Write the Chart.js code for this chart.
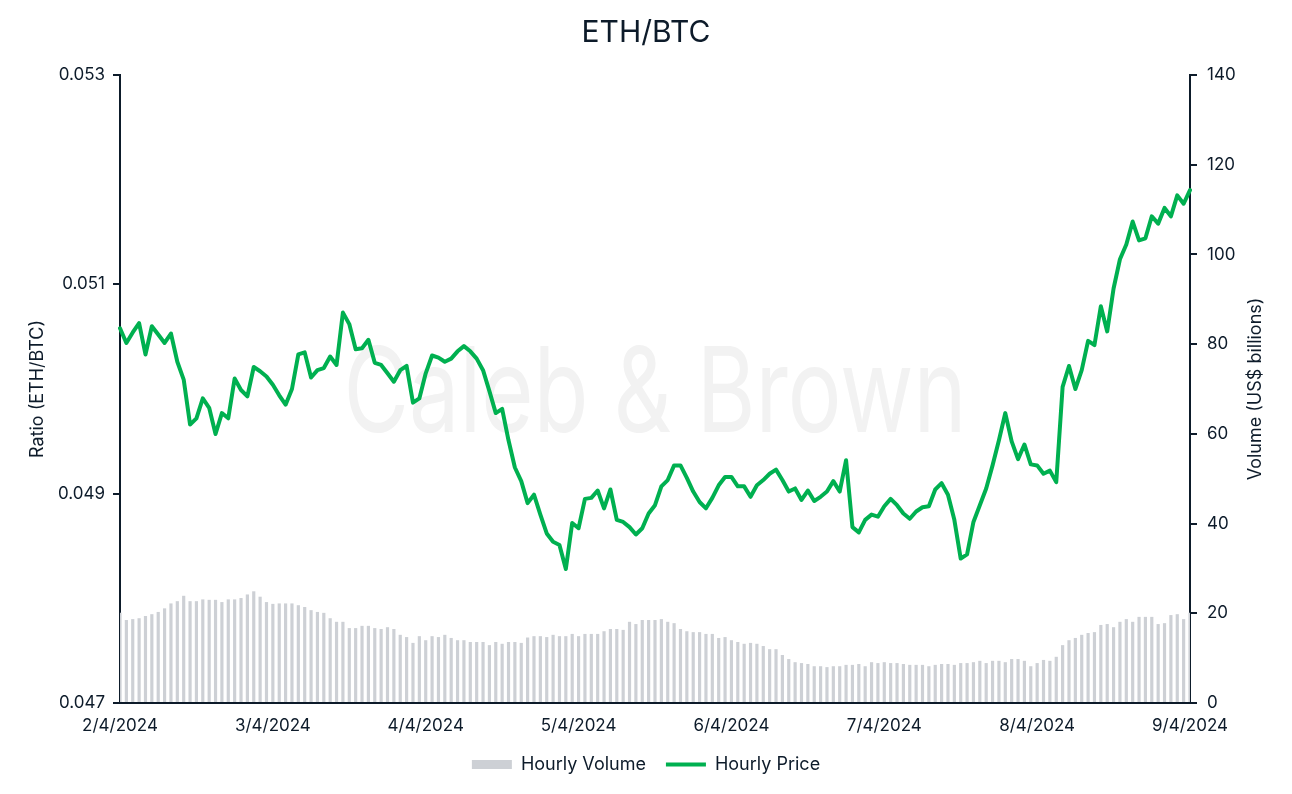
<!DOCTYPE html>
<html>
<head>
<meta charset="utf-8">
<title>ETH/BTC</title>
<script src="https://cdn.jsdelivr.net/npm/chart.js@4.4.1/dist/chart.umd.min.js"></script>
<style>
  body { margin: 0; background: #ffffff; }
  #wrap { width: 1292px; height: 794px; }
</style>
</head>
<body>
<div id="wrap"><canvas id="grafico" width="1292" height="794"></canvas></div>
<script>
// Etiquetas de los dias (eje X), una cada 24 horas
const dayLabels = ["2/4/2024", "3/4/2024", "4/4/2024", "5/4/2024", "6/4/2024", "7/4/2024", "8/4/2024", "9/4/2024"];

// Precio horario ETH/BTC (eje izquierdo)
const hourlyPrice = [
  0.05058, 0.05044, 0.05054, 0.05063, 0.05033, 0.05060, 0.05052, 0.05044, 0.05053, 0.05026,
  0.05009, 0.04966, 0.04972, 0.04991, 0.04982, 0.04957, 0.04977, 0.04972, 0.05010, 0.04999,
  0.04993, 0.05021, 0.05017, 0.05012, 0.05004, 0.04994, 0.04985, 0.05000, 0.05033, 0.05035,
  0.05011, 0.05018, 0.05020, 0.05031, 0.05023, 0.05073, 0.05062, 0.05038, 0.05039, 0.05047,
  0.05025, 0.05023, 0.05015, 0.05007, 0.05018, 0.05022, 0.04987, 0.04991, 0.05015, 0.05032,
  0.05030, 0.05026, 0.05029, 0.05036, 0.05041, 0.05036, 0.05029, 0.05018, 0.04998, 0.04977,
  0.04981, 0.04951, 0.04925, 0.04912, 0.04891, 0.04899, 0.04880, 0.04862, 0.04854, 0.04851,
  0.04828, 0.04872, 0.04867, 0.04895, 0.04896, 0.04903, 0.04886, 0.04904, 0.04875, 0.04873,
  0.04868, 0.04861, 0.04867, 0.04881, 0.04889, 0.04907, 0.04913, 0.04927, 0.04927, 0.04915,
  0.04902, 0.04892, 0.04886, 0.04896, 0.04908, 0.04916, 0.04916, 0.04907, 0.04907, 0.04897,
  0.04908, 0.04913, 0.04919, 0.04923, 0.04913, 0.04902, 0.04905, 0.04894, 0.04903, 0.04893,
  0.04897, 0.04902, 0.04912, 0.04902, 0.04932, 0.04868, 0.04863, 0.04875, 0.04880, 0.04878,
  0.04888, 0.04895, 0.04889, 0.04881, 0.04876, 0.04883, 0.04887, 0.04888, 0.04904, 0.04910,
  0.04899, 0.04875, 0.04838, 0.04842, 0.04873, 0.04889, 0.04905, 0.04927, 0.04951, 0.04977,
  0.04950, 0.04933, 0.04947, 0.04928, 0.04927, 0.04919, 0.04922, 0.04911, 0.05002, 0.05022,
  0.05000, 0.05018, 0.05046, 0.05042, 0.05079, 0.05055, 0.05096, 0.05124, 0.05138, 0.05160,
  0.05142, 0.05144, 0.05165, 0.05158, 0.05173, 0.05165, 0.05185, 0.05177, 0.05190
];

// Volumen horario en miles de millones de US$ (eje derecho)
const hourlyVolume = [
  20.1, 18.5, 18.7, 18.9, 19.4, 19.8, 20.3, 21.1, 22.2, 22.7,
  23.9, 22.7, 22.7, 23.1, 23.0, 23.0, 22.5, 23.1, 23.1, 23.4,
  24.2, 24.9, 23.7, 22.5, 22.1, 22.2, 22.2, 22.2, 21.8, 21.4,
  20.7, 20.3, 20.1, 18.9, 18.1, 18.1, 16.7, 16.7, 17.2, 17.2,
  16.7, 16.5, 16.9, 16.5, 15.2, 14.7, 13.4, 14.9, 14.0, 14.9,
  14.7, 15.2, 14.5, 14.0, 14.0, 13.6, 13.6, 13.6, 12.9, 13.6,
  13.2, 13.6, 13.6, 13.4, 14.6, 14.9, 14.9, 14.7, 15.2, 14.9,
  14.9, 15.4, 14.9, 15.4, 15.4, 15.4, 16.0, 16.5, 16.5, 16.3,
  18.1, 17.6, 18.5, 18.5, 18.5, 18.7, 18.1, 17.8, 16.5, 16.0,
  15.8, 15.8, 15.4, 15.4, 14.5, 14.7, 14.0, 13.6, 13.2, 13.4,
  13.2, 12.7, 12.0, 12.0, 10.7, 9.8, 9.1, 8.9, 8.7, 8.2,
  8.2, 8.0, 8.2, 8.2, 8.5, 8.5, 8.7, 8.2, 9.1, 8.9,
  9.1, 8.9, 8.9, 8.7, 8.5, 8.5, 8.5, 8.2, 8.5, 8.7,
  8.7, 8.5, 8.9, 8.9, 9.1, 9.4, 8.9, 9.4, 9.4, 9.1,
  9.8, 9.8, 9.4, 8.2, 8.9, 9.6, 9.4, 10.3, 12.9, 14.0,
  14.5, 15.2, 15.6, 15.8, 17.4, 17.6, 16.9, 18.1, 18.7, 18.1,
  19.2, 19.2, 19.2, 17.6, 17.8, 19.6, 19.8, 18.7, 20.1
];

const tituloIzq = "Ratio (ETH/BTC)";
const tituloDer = "Volume (US$ billions)";
const navy = "#0d1b2a";
const fuente = "Inter, 'DejaVu Sans', sans-serif";

// Categorias horarias construidas a partir de los dias
const hourLabels = [];
for (let d = 0; d < dayLabels.length - 1; d++) {
  for (let h = 0; h < 24; h++) hourLabels.push(dayLabels[d] + " " + h + ":00");
}
hourLabels.push(dayLabels[dayLabels.length - 1] + " 0:00");

// Marca de agua y titulo del eje derecho
const extras = {
  id: "extras",
  beforeDatasetsDraw(chart) {
    const { ctx, chartArea } = chart;
    ctx.save();
    ctx.font = "118px " + fuente;
    ctx.fillStyle = "#f2f2f2";
    ctx.textAlign = "center";
    ctx.textBaseline = "alphabetic";
    ctx.fillText("Caleb & Brown", (chartArea.left + chartArea.right) / 2, 432, 623);
    ctx.restore();
  },
  afterDraw(chart) {
    const { ctx, chartArea } = chart;
    ctx.save();
    ctx.translate(1256, (chartArea.top + chartArea.bottom) / 2);
    ctx.rotate(-Math.PI / 2);
    ctx.font = "18px " + fuente;
    ctx.fillStyle = navy;
    ctx.textAlign = "center";
    ctx.textBaseline = "middle";
    ctx.fillText(tituloDer, 0, 0);
    ctx.restore();
  },
};

const config = {
  type: "bar",
  data: {
    labels: hourLabels,
    datasets: [
      {
        type: "bar",
        label: "Hourly Volume",
        data: hourlyVolume,
        yAxisID: "y1",
        backgroundColor: "#cdd0d5",
        borderWidth: 0,
        barPercentage: 0.5,
        categoryPercentage: 1,
        pointStyle: "rect",
        order: 1,
      },
      {
        type: "line",
        label: "Hourly Price",
        data: hourlyPrice,
        yAxisID: "y",
        borderColor: "#00b050",
        backgroundColor: "#00b050",
        borderWidth: 4,
        pointRadius: 0,
        tension: 0,
        borderJoinStyle: "round",
        borderCapStyle: "round",
        pointStyle: "line",
        order: 0,
      },
    ],
  },
  options: {
    responsive: false,
    animation: false,
    layout: { padding: { top: 0, left: 0, right: 0, bottom: 10.5 } },
    plugins: {
      title: {
        display: true,
        text: "ETH/BTC",
        color: navy,
        font: { family: fuente, size: 30, weight: "normal" },
        padding: { top: 15, bottom: 24 },
      },
      legend: {
        position: "bottom",
        labels: {
          usePointStyle: true,
          pointStyleWidth: 40,
          boxHeight: 9,
          padding: 20,
          color: navy,
          font: { family: fuente, size: 18 },
          sort: (a, b) => a.datasetIndex - b.datasetIndex,
        },
      },
      tooltip: { enabled: false },
    },
    scales: {
      x: {
        offset: false,
        grid: { display: false },
        border: { display: true, color: navy, width: 2 },
        ticks: {
          autoSkip: false,
          maxRotation: 0,
          padding: 5,
          color: navy,
          font: { family: fuente, size: 17 },
          callback: (v, i) => (i % 24 === 0 ? dayLabels[i / 24] : ""),
        },
        afterFit: (scale) => { scale.height = 32.5; },
      },
      y: {
        position: "left",
        min: 0.047,
        max: 0.053,
        grid: { drawOnChartArea: false, color: navy, lineWidth: 2, tickLength: 7 },
        border: { display: true, color: navy, width: 2 },
        ticks: {
          stepSize: 0.002,
          padding: 8,
          color: navy,
          font: { family: fuente, size: 17 },
          callback: (v) => v.toFixed(3),
        },
        title: {
          display: true,
          text: tituloIzq,
          color: navy,
          font: { family: fuente, size: 18 },
          padding: { top: 27, bottom: 0 },
        },
        afterFit: (scale) => { scale.width = 120; },
      },
      y1: {
        position: "right",
        min: 0,
        max: 140,
        grid: { drawOnChartArea: false, color: navy, lineWidth: 2, tickLength: 7 },
        border: { display: true, color: navy, width: 2 },
        ticks: {
          stepSize: 20,
          padding: 10,
          color: navy,
          font: { family: fuente, size: 17 },
        },
        afterFit: (scale) => { scale.width = 102; },
      },
    },
  },
  plugins: [extras],
};

const ctx = document.getElementById("grafico").getContext("2d");
new Chart(ctx, config);
</script>
</body>
</html>
